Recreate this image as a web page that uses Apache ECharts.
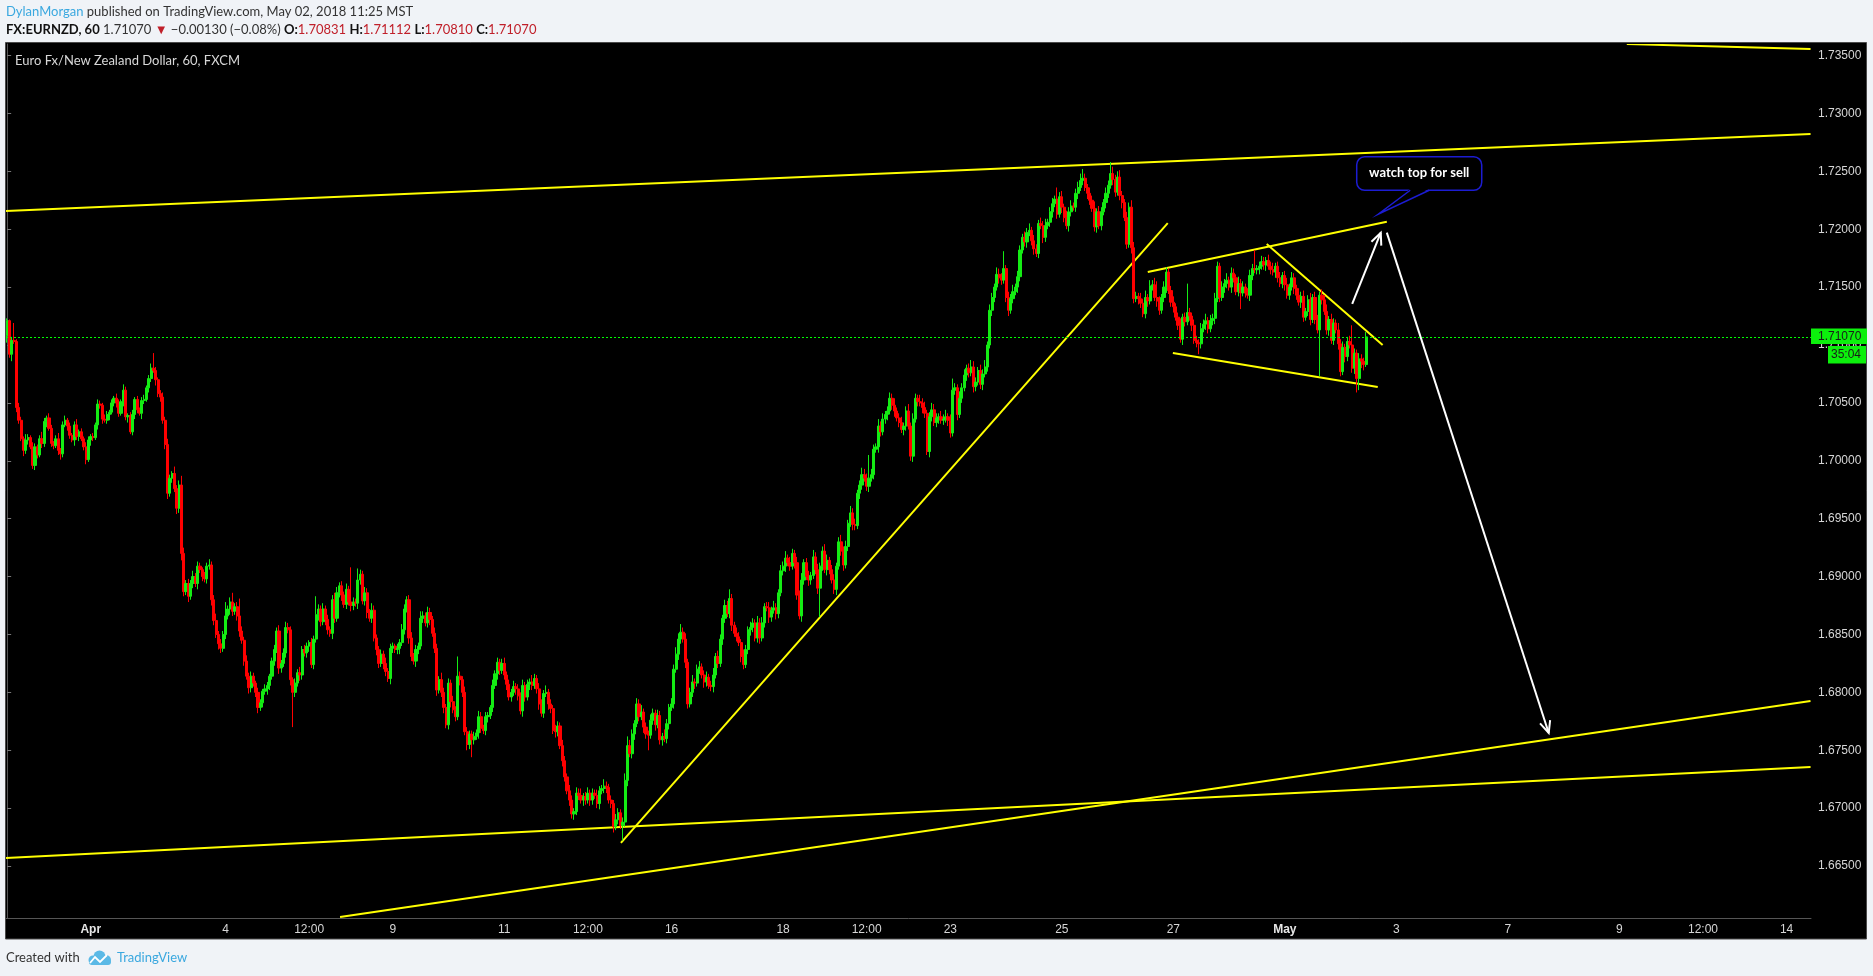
<!DOCTYPE html>
<html>
<head>
<meta charset="utf-8">
<title>FX:EURNZD, 60</title>
<script src="https://cdn.jsdelivr.net/npm/echarts@6.0.0/dist/echarts.min.js"></script>
<style>
  html, body { margin: 0; padding: 0; background: #f0f3f7; }
  #chart { width: 1873px; height: 976px; }
</style>
</head>
<body>
<div id="chart"></div>
<script>
// hourly closes, Mar 29 02:00 -> May 02 11:00 (MST)
const firstOpen = 1.7108;
const closes = [
  1.7121,1.7092,1.7104,1.7103,1.7046,1.7035,1.7019,1.7009,1.7018,1.7020,
  1.7012,1.6996,1.7012,1.7005,1.7019,1.7015,1.7034,1.7037,1.7028,1.7015,
  1.7013,1.7019,1.7009,1.7006,1.7031,1.7035,1.7030,1.7022,1.7018,1.7031,
  1.7021,1.7025,1.7019,1.7012,1.7001,1.7018,1.7021,1.7020,1.7031,1.7049,
  1.7048,1.7036,1.7035,1.7040,1.7042,1.7050,1.7054,1.7050,1.7041,1.7051,
  1.7061,1.7038,1.7039,1.7025,1.7040,1.7053,1.7044,1.7041,1.7052,1.7053,
  1.7063,1.7071,1.7080,1.7078,1.7070,1.7058,1.7055,1.7035,1.7014,1.6972,
  1.6985,1.6989,1.6976,1.6959,1.6979,1.6920,1.6887,1.6894,1.6883,1.6894,
  1.6900,1.6894,1.6909,1.6906,1.6900,1.6898,1.6909,1.6910,1.6880,1.6862,
  1.6850,1.6842,1.6838,1.6850,1.6866,1.6872,1.6878,1.6870,1.6874,1.6866,
  1.6853,1.6845,
  1.6827,1.6814,1.6804,1.6814,1.6808,1.6800,1.6787,1.6791,
  1.6801,1.6803,1.6806,1.6814,1.6827,1.6837,1.6853,1.6821,1.6825,1.6834,
  1.6856,1.6854,1.6811,1.6800,1.6808,1.6817,1.6815,1.6837,1.6834,1.6840,
  1.6843,1.6824,1.6846,1.6867,1.6872,1.6861,1.6872,1.6863,1.6854,1.6851,
  1.6880,1.6864,1.6886,1.6892,1.6884,1.6876,1.6889,1.6878,1.6875,1.6878,
  1.6877,1.6897,1.6902,1.6879,1.6886,1.6869,1.6864,1.6871,1.6847,1.6837,
  1.6825,1.6833,1.6825,1.6818,1.6812,1.6838,1.6840,1.6837,1.6838,1.6843,
  1.6854,1.6872,1.6880,1.6847,1.6831,1.6827,1.6837,1.6840,1.6864,1.6866,
  1.6860,1.6869,1.6863,1.6851,1.6838,1.6802,1.6811,1.6800,1.6787,1.6772,
  1.6808,1.6792,1.6785,1.6779,1.6814,1.6811,1.6800,1.6766,1.6755,1.6764,
  1.6759,1.6762,1.6765,1.6779,
  1.6769,1.6767,1.6779,1.6780,1.6787,1.6806,
  1.6816,1.6826,1.6819,1.6825,1.6815,1.6807,1.6796,1.6800,1.6805,1.6803,
  1.6797,1.6784,1.6806,1.6796,1.6807,1.6809,1.6806,1.6812,1.6803,1.6790,
  1.6782,1.6799,1.6800,1.6790,1.6786,1.6767,1.6766,1.6771,1.6754,1.6741,
  1.6727,1.6715,1.6707,1.6695,1.6697,1.6713,1.6711,1.6707,1.6710,1.6707,
  1.6713,1.6707,1.6713,1.6711,1.6704,1.6715,1.6717,1.6719,1.6718,1.6707,
  1.6704,1.6684,1.6690,1.6696,1.6685,1.6688,1.6724,1.6754,1.6747,1.6764,
  1.6773,1.6790,1.6779,1.6783,1.6770,1.6764,1.6763,1.6776,1.6782,1.6772,
  1.6780,1.6759,1.6762,1.6760,1.6773,1.6787,1.6790,1.6820,1.6833,1.6846,
  1.6852,1.6846,1.6826,1.6790,1.6800,1.6809,1.6808,1.6820,1.6822,1.6815,
  1.6809,1.6813,1.6806,1.6805,1.6815,1.6831,1.6825,1.6846,1.6864,1.6875,
  1.6868,1.6881,1.6858,
  1.6851,1.6848,1.6843,1.6831,1.6824,
  1.6837,1.6854,1.6856,1.6860,1.6847,1.6860,1.6847,1.6860,1.6874,1.6873,
  1.6865,1.6871,1.6873,1.6868,1.6886,1.6905,1.6909,1.6916,1.6912,1.6909,
  1.6920,1.6912,1.6884,1.6866,1.6897,1.6912,1.6900,1.6897,1.6901,1.6917,
  1.6906,1.6890,1.6909,1.6922,1.6906,1.6914,1.6906,1.6897,1.6889,1.6909,
  1.6930,1.6922,1.6910,1.6926,1.6946,1.6955,1.6945,1.6944,1.6972,1.6979,
  1.6988,1.6985,1.6978,1.6985,1.6988,1.7010,1.7012,1.7030,1.7025,1.7036,
  1.7040,1.7043,1.7054,1.7048,1.7043,1.7037,1.7033,1.7027,1.7030,1.7043,
  1.7030,1.7004,1.7036,1.7054,1.7051,1.7050,1.7046,1.7041,1.7008,1.7038,
  1.7044,1.7033,1.7037,1.7038,1.7035,1.7036,1.7038,1.7035,1.7024,1.7061,
  1.7063,1.7040,1.7054,1.7063,1.7074,1.7080,1.7076,
  1.7081,1.7064,1.7068,1.7078,1.7066,1.7075,1.7081,1.7100,1.7130,1.7141,
  1.7150,1.7161,1.7158,1.7156,1.7166,1.7141,1.7130,1.7140,1.7146,1.7150,
  1.7159,1.7182,1.7193,1.7189,1.7197,1.7199,1.7190,1.7183,1.7179,1.7205,
  1.7203,1.7193,1.7203,1.7206,1.7215,1.7222,1.7226,1.7213,1.7228,1.7219,
  1.7210,1.7203,1.7215,1.7220,1.7219,1.7231,1.7236,1.7242,1.7244,1.7236,
  1.7231,1.7225,1.7218,1.7202,1.7215,1.7203,1.7215,1.7223,1.7231,1.7238,
  1.7248,1.7243,1.7232,1.7245,1.7229,1.7223,1.7210,1.7187,1.7219,1.7184,
  1.7140,1.7142,1.7140,1.7136,1.7127,1.7141,1.7138,1.7151,1.7152,1.7141,
  1.7138,1.7130,1.7141,1.7150,1.7163,1.7147,1.7137,1.7133,1.7124,1.7117,
  1.7105,1.7124,1.7120,1.7128,1.7125,1.7117,1.7104,1.7102,1.7101,1.7114,
  1.7118,1.7121,
  1.7114,1.7121,1.7123,1.7140,1.7168,1.7141,1.7150,1.7153,1.7156,1.7150,
  1.7162,1.7158,1.7146,1.7153,1.7145,1.7150,1.7145,1.7143,1.7160,1.7166,
  1.7165,1.7166,1.7168,1.7172,1.7169,1.7173,1.7168,1.7165,1.7163,1.7168,
  1.7158,1.7153,1.7160,1.7152,1.7143,1.7150,1.7158,1.7149,1.7143,1.7137,
  1.7142,1.7124,1.7129,1.7139,1.7122,1.7141,1.7122,1.7113,1.7143,1.7139,
  1.7129,1.7113,1.7122,1.7104,1.7119,1.7113,1.7101,1.7077,1.7098,1.7090,
  1.7103,1.7100,1.7080,1.7093,1.7071,1.7088,1.7086,1.70831,1.71070
];

// wick length above / below the body, in pips
const wickUp = [
  2,1,3,15,2,4,3,2,5,3,2,4,3,2,3,6,3,2,4,3,
  2,3,5,2,3,4,2,3,2,3,5,2,3,2,4,3,2,3,2,4,
  3,2,4,3,2,3,2,4,3,2,5,3,2,3,4,2,3,2,3,4,
  2,3,4,13,3,2,3,4,3,5,3,2,6,3,4,8,5,3,4,3,
  5,3,4,3,2,4,3,5,3,4,6,3,4,3,12,3,4,8,3,4,
  15,4,3,5,3,4,3,2,4,3,2,4,3,2,3,4,3,5,3,4,
  5,4,3,2,4,3,5,3,4,3,2,4,3,16,4,3,5,3,4,3,
  4,6,5,3,4,3,5,3,30,4,3,10,4,3,5,4,3,6,4,3,
  3,4,3,5,3,4,3,2,4,3,5,4,3,4,5,3,4,3,6,4,
  3,5,4,3,5,4,3,6,4,3,4,3,5,3,17,4,3,5,4,3,
  3,4,3,5,4,3,4,3,2,5,3,4,3,4,5,3,4,3,5,3,
  4,3,5,3,4,3,6,4,3,5,4,3,6,3,4,3,5,4,3,5,
  4,3,5,4,3,5,4,6,3,4,5,3,4,3,5,4,3,6,4,3,
  4,3,5,4,3,4,6,8,5,4,3,5,4,6,3,4,3,5,4,3,
  5,4,3,6,4,3,5,4,6,5,7,4,5,3,4,6,3,4,5,3,
  4,5,3,4,6,3,5,4,3,5,4,8,4,3,5,4,3,6,4,3,
  5,4,3,6,4,5,3,4,5,3,6,4,3,5,4,6,3,5,4,3,
  5,4,6,3,4,5,3,6,4,5,3,4,6,5,3,4,5,3,4,6,
  4,5,3,6,4,5,3,4,6,5,4,20,5,4,3,6,4,5,3,4,
  5,4,6,3,4,5,3,4,6,3,5,4,3,6,4,5,3,4,6,5,
  4,3,5,4,6,3,5,10,4,3,6,4,5,3,4,6,5,4,3,5,
  4,6,3,5,4,3,6,5,4,15,3,5,4,6,3,5,4,3,5,4,
  6,3,5,4,3,5,4,6,3,4,5,3,10,4,5,3,6,4,5,3,
  4,5,6,8,4,3,5,4,6,3,5,4,3,5,4,10,6,4,5,6,
  4,3,5,4,6,5,4,3,5,4,6,3,5,4,6,14,4,3,5,4,
  3,4,5,3,4,6,3,4,25,4,3,5,4,3,5,4,6,3,5,4,
  5,4,3,5,4,6,3,5,4,3,6,4,5,3,4,5,4,16,3,4,
  5,4,3,5,4,6,3,4,5,3,4,6,3,5,4,3,6,4,5,3,
  4,6,3,5,4,3,5,4,6,3,5,4,3,6,4,5,3,4,5,17,
  4,3,5,4,3,4.2
];
const wickDown = [
  6,3,6,2,4,3,2,5,3,4,2,3,4,3,2,4,3,5,2,3,
  3,2,4,5,3,2,4,3,2,5,3,4,2,3,4,2,5,3,2,4,
  3,4,2,3,5,2,3,4,3,2,4,3,5,2,3,4,3,2,5,3,
  2,4,3,2,5,3,4,3,4,5,3,4,3,5,4,6,4,3,5,3,
  4,3,5,3,4,3,4,3,5,4,3,5,4,3,4,3,5,4,3,4,
  5,3,4,3,5,4,3,4,5,3,4,3,5,4,3,4,3,5,4,3,
  4,3,5,30,4,3,5,4,3,4,5,3,4,3,5,4,3,5,4,3,
  5,4,3,4,5,3,4,3,5,4,3,5,4,3,4,5,3,4,3,5,
  4,3,5,4,3,5,4,3,4,5,3,4,3,5,4,3,5,4,3,4,
  3,4,5,3,4,5,3,4,5,3,4,5,3,4,3,5,4,3,5,4,
  15,4,3,5,4,3,4,5,3,4,3,5,4,3,4,5,3,4,3,5,
  4,3,5,4,3,5,4,3,4,5,3,4,3,5,4,3,5,4,3,5,
  4,3,5,4,5,3,4,3,5,4,3,5,4,3,4,5,3,4,5,3,
  4,5,3,4,3,13,4,5,3,4,5,3,4,3,5,4,13,3,4,5,
  3,4,5,3,4,5,3,4,3,5,4,3,5,4,3,4,5,3,4,3,
  5,4,3,4,5,3,4,3,5,4,3,4,5,3,4,3,5,4,3,4,
  5,4,3,4,5,3,4,3,5,4,3,5,4,3,4,5,3,4,3,5,
  4,3,5,4,3,5,4,3,4,5,25,4,3,5,4,3,4,5,3,4,
  5,3,4,3,5,4,3,5,4,3,4,5,3,4,3,5,4,3,4,5,
  3,4,5,3,4,3,5,4,3,4,5,3,4,3,5,4,3,5,4,3,
  4,5,3,4,3,5,4,3,4,5,3,4,3,5,4,3,5,4,3,4,
  5,3,4,3,5,4,3,5,4,3,4,5,3,4,3,5,4,3,4,5,
  3,4,5,3,4,3,5,4,3,4,5,3,4,3,5,4,3,5,4,3,
  4,5,3,4,3,5,4,3,4,5,3,4,3,5,4,3,5,4,3,4,
  5,3,4,3,5,4,3,5,4,3,4,5,3,4,3,5,4,3,4,5,
  3,4,5,3,4,3,5,4,3,4,5,3,4,9,4,3,5,4,3,4,
  5,3,4,3,5,4,3,5,4,3,4,14,3,4,3,5,4,3,4,5,
  3,4,5,3,4,3,5,4,3,4,5,3,4,3,5,4,3,5,4,3,
  4,5,3,4,3,40,4,3,4,5,3,4,3,5,4,3,5,4,3,4,
  5,12,10,6,5,2.1
];

const priceTicks = [1.665, 1.670, 1.675, 1.680, 1.685, 1.690, 1.695, 1.700,
  1.705, 1.710, 1.715, 1.720, 1.725, 1.730, 1.735];
const tickTimes = ['2018-04-01 14:00', '2018-04-04 00:00', '2018-04-05 12:00', '2018-04-09 00:00',
  '2018-04-11 00:00', '2018-04-12 12:00', '2018-04-16 00:00', '2018-04-18 00:00', '2018-04-19 12:00',
  '2018-04-23 00:00', '2018-04-25 00:00', '2018-04-27 00:00', '2018-05-01 00:00', '2018-05-03 00:00',
  '2018-05-07 00:00', '2018-05-09 00:00', '2018-05-10 12:00', '2018-05-14 00:00'];
const tickTexts = ['Apr', '4', '12:00', '9', '11', '12:00', '16', '18', '12:00',
  '23', '25', '27', 'May', '3', '7', '9', '12:00', '14'];

// drawings, as [bar index, price, bar index, price]
const trendLines = [
  [-0.5, 1.72157, 776.3, 1.72822],
  [697.2, 1.73599, 776.3, 1.73556],
  [-0.5, 1.66570, 776.3, 1.67355],
  [143.3, 1.66060, 776.3, 1.67925],
  [264.2, 1.66700, 499.6, 1.72053],
  [491.0, 1.71630, 593.9, 1.72065],
  [501.8, 1.70931, 590.0, 1.70637],
  [542.2, 1.71872, 592.1, 1.71000]
];
const arrows = [
  [579.0, 1.71354, 591.3, 1.71970],
  [593.9, 1.71970, 663.6, 1.67649]
];
const calloutAt = [590.2, 1.72129];
const calloutText = 'watch top for sell';
const countdownText = '35:04';

const firstBar = Date.UTC(2018, 2, 29, 2);
const slotCount = 777;

const GREEN = '#14ec14';
const RED = '#ff0000';

function marketOpen(t) {
  const d = new Date(t);
  const day = d.getUTCDay(), h = d.getUTCHours();
  if (day === 6) return false;
  if (day === 5 && h >= 14) return false;
  if (day === 0 && h < 14) return false;
  return true;
}
function pad(n) { return (n < 10 ? '0' : '') + n; }
function stamp(t) {
  const d = new Date(t);
  return d.getUTCFullYear() + '-' + pad(d.getUTCMonth() + 1) + '-' + pad(d.getUTCDate()) +
    ' ' + pad(d.getUTCHours()) + ':00';
}

// hourly slots, weekend closure skipped like the TradingView time scale
const categories = [];
for (let t = firstBar; categories.length < slotCount; t += 3600000) {
  if (marketOpen(t)) categories.push(stamp(t));
}

const tickMap = {};
tickTimes.forEach((k, i) => { tickMap[k] = tickTexts[i]; });

const candles = closes.map((c, i) => {
  const o = i === 0 ? firstOpen : closes[i - 1];
  const hi = Math.max(o, c) + wickUp[i] / 10000;
  const lo = Math.min(o, c) - wickDown[i] / 10000;
  return [o, c, lo, hi];
});
const last = candles[candles.length - 1];
const lastPrice = last[1];

function drawLine(params, api) {
  const a = api.coord([api.value(0), api.value(1)]);
  const b = api.coord([api.value(2), api.value(3)]);
  return {
    type: 'line',
    shape: { x1: a[0], y1: a[1], x2: b[0], y2: b[1] },
    style: { stroke: '#ffff00', lineWidth: 2 }
  };
}

function drawArrow(params, api) {
  const a = api.coord([api.value(0), api.value(1)]);
  const b = api.coord([api.value(2), api.value(3)]);
  const ang = Math.atan2(b[1] - a[1], b[0] - a[0]);
  const len = 13, spread = 0.42;
  const h1 = [b[0] - len * Math.cos(ang - spread), b[1] - len * Math.sin(ang - spread)];
  const h2 = [b[0] - len * Math.cos(ang + spread), b[1] - len * Math.sin(ang + spread)];
  return {
    type: 'group',
    children: [
      { type: 'line', shape: { x1: a[0], y1: a[1], x2: b[0], y2: b[1] }, style: { stroke: '#ffffff', lineWidth: 2 } },
      { type: 'polyline', shape: { points: [h1, b, h2] }, style: { stroke: '#ffffff', lineWidth: 2, fill: 'none' } }
    ]
  };
}

function drawCallout(params, api) {
  const p = api.coord([api.value(0), api.value(1)]);
  const x = p[0], y = p[1];
  const blue = '#1c1cd2';
  return {
    type: 'group',
    children: [
      { type: 'rect', shape: { x: x - 21.5, y: y - 57.5, width: 125, height: 33.5, r: 8 },
        style: { fill: '#000', stroke: blue, lineWidth: 1.5 } },
      { type: 'polygon', shape: { points: [[x + 32, y - 25.5], [x + 51, y - 25.5], [x, y]] },
        style: { fill: '#000' } },
      { type: 'polyline', shape: { points: [[x + 32, y - 24], [x, y], [x + 51, y - 24]] },
        style: { stroke: blue, lineWidth: 1.5, fill: 'none' } },
      { type: 'text', x: x + 41, y: y - 41,
        style: { text: calloutText, fill: '#ffffff', font: 'bold 13px Lato', align: 'center', verticalAlign: 'middle' } }
    ]
  };
}

const chart = echarts.init(document.getElementById('chart'));

const option = {
  backgroundColor: '#f0f3f7',
  animation: false,
  grid: { left: 6, right: 62, top: 44, bottom: 58 },
  xAxis: [
    {
      type: 'category',
      data: categories,
      boundaryGap: true,
      axisLine: { lineStyle: { color: '#555' } },
      axisTick: {
        alignWithLabel: true,
        interval: (i, v) => v in tickMap,
        length: 4,
        lineStyle: { color: '#777' }
      },
      axisLabel: {
        interval: (i, v) => v in tickMap,
        formatter: v => {
          const s = tickMap[v] || '';
          return /^[A-Z]/.test(s) ? '{b|' + s + '}' : s;
        },
        color: '#d6d6d6',
        fontSize: 12,
        fontFamily: 'Liberation Sans',
        margin: 6,
        rich: { b: { fontWeight: 'bold', color: '#e6e6e6', fontSize: 12, fontFamily: 'Liberation Sans' } }
      },
      splitLine: { show: false }
    },
    { type: 'value', min: -0.5, max: slotCount - 0.5, show: false }
  ],
  yAxis: {
    type: 'value',
    position: 'right',
    min: 1.660515,
    max: 1.735993,
    axisLine: { show: true, lineStyle: { color: '#555' } },
    axisTick: { show: true, customValues: priceTicks, length: 4, lineStyle: { color: '#777' } },
    axisLabel: {
      customValues: priceTicks,
      formatter: v => v.toFixed(5),
      color: '#d6d6d6',
      fontSize: 12,
      fontFamily: 'Liberation Sans',
      margin: 7
    },
    splitLine: { show: false }
  },
  series: [
    {
      type: 'candlestick',
      data: candles,
      barWidth: 2.6,
      itemStyle: { color: GREEN, color0: RED, borderColor: GREEN, borderColor0: RED, borderWidth: 1 },
      markLine: {
        silent: true,
        symbol: 'none',
        precision: 5,
        label: { show: false },
        lineStyle: { color: '#00ff00', type: [2, 2], width: 1 },
        data: [{ yAxis: lastPrice }]
      }
    },
    {
      type: 'custom',
      xAxisIndex: 1,
      clip: true,
      silent: true,
      encode: { x: [0, 2], y: [1, 3] },
      data: trendLines,
      renderItem: drawLine
    },
    {
      type: 'custom',
      xAxisIndex: 1,
      clip: true,
      silent: true,
      encode: { x: [0, 2], y: [1, 3] },
      data: arrows,
      renderItem: drawArrow
    },
    {
      type: 'custom',
      xAxisIndex: 1,
      silent: true,
      encode: { x: 0, y: 1 },
      data: [calloutAt],
      renderItem: drawCallout
    }
  ]
};
chart.setOption(option);

// header, frame, price flag and footer
const py = chart.convertToPixel({ yAxisIndex: 0 }, lastPrice);
const f5 = v => v.toFixed(5);
const headerLine2 = '{b|FX:EURNZD, 60} ' + f5(lastPrice) + ' {r|\u25BC} \u22120.00130 (\u22120.08%) ' +
  '{b|O:}{r|' + f5(last[0]) + '} {b|H:}{r|' + f5(last[3]) + '} {b|L:}{r|' + f5(last[2]) +
  '} {b|C:}{r|' + f5(last[1]) + '}';
const logoBlue = '#5ab9e6';

chart.setOption({
  graphic: [
    { type: 'rect', z: -10, silent: true, shape: { x: 5.5, y: 42.5, width: 1861, height: 896.5 },
      style: { fill: '#000', stroke: '#4a4a4a', lineWidth: 1 } },
    { type: 'text', z: 10, x: 6, y: 12, silent: true,
      style: { text: '{u|DylanMorgan} published on TradingView.com, May 02, 2018 11:25 MST',
        fill: '#333', font: '13px Lato', verticalAlign: 'middle',
        rich: { u: { fill: '#3aa8df', font: '13px Lato' } } } },
    { type: 'text', z: 10, x: 6, y: 30, silent: true,
      style: { text: headerLine2, fill: '#333', font: '13px Lato', verticalAlign: 'middle',
        rich: { b: { fill: '#111', font: 'bold 13px Lato' }, r: { fill: '#c0202a', font: '13px Lato' } } } },
    { type: 'text', z: 10, x: 15, y: 61, silent: true,
      style: { text: 'Euro Fx/New Zealand Dollar, 60, FXCM', fill: '#d8d8d8', font: '13px Lato', verticalAlign: 'middle' } },
    { type: 'rect', z: 100, silent: true, shape: { x: 1811, y: py - 8.5, width: 56, height: 15.5 },
      style: { fill: '#0cf00c' } },
    { type: 'text', z: 101, x: 1818, y: py, silent: true,
      style: { text: f5(lastPrice), fill: '#1a1a1a', font: '12px "Liberation Sans"', verticalAlign: 'middle' } },
    { type: 'rect', z: 100, silent: true, shape: { x: 1828, y: py + 9, width: 38, height: 17.5 },
      style: { fill: '#0cf00c' } },
    { type: 'text', z: 101, x: 1831, y: py + 18, silent: true,
      style: { text: countdownText, fill: '#1a1a1a', font: '12px "Liberation Sans"', verticalAlign: 'middle' } },
    { type: 'text', z: 10, x: 6, y: 958, silent: true,
      style: { text: 'Created with', fill: '#333', font: '13px Lato', verticalAlign: 'middle' } },
    // cloud logo
    { type: 'circle', z: 10, silent: true, shape: { cx: 93, cy: 960, r: 4.5 }, style: { fill: logoBlue } },
    { type: 'circle', z: 10, silent: true, shape: { cx: 99.5, cy: 956.5, r: 6 }, style: { fill: logoBlue } },
    { type: 'circle', z: 10, silent: true, shape: { cx: 106, cy: 960, r: 5 }, style: { fill: logoBlue } },
    { type: 'rect', z: 10, silent: true, shape: { x: 89, y: 959, width: 22, height: 6, r: 3 }, style: { fill: logoBlue } },
    { type: 'polyline', z: 11, silent: true,
      shape: { points: [[90, 963], [95, 957], [100, 962], [107, 955]] },
      style: { stroke: '#ffffff', lineWidth: 1.8, fill: 'none' } },
    { type: 'text', z: 10, x: 117, y: 958, silent: true,
      style: { text: 'TradingView', fill: '#3aa8df', font: '13px Lato', verticalAlign: 'middle' } }
  ]
});
</script>
</body>
</html>
